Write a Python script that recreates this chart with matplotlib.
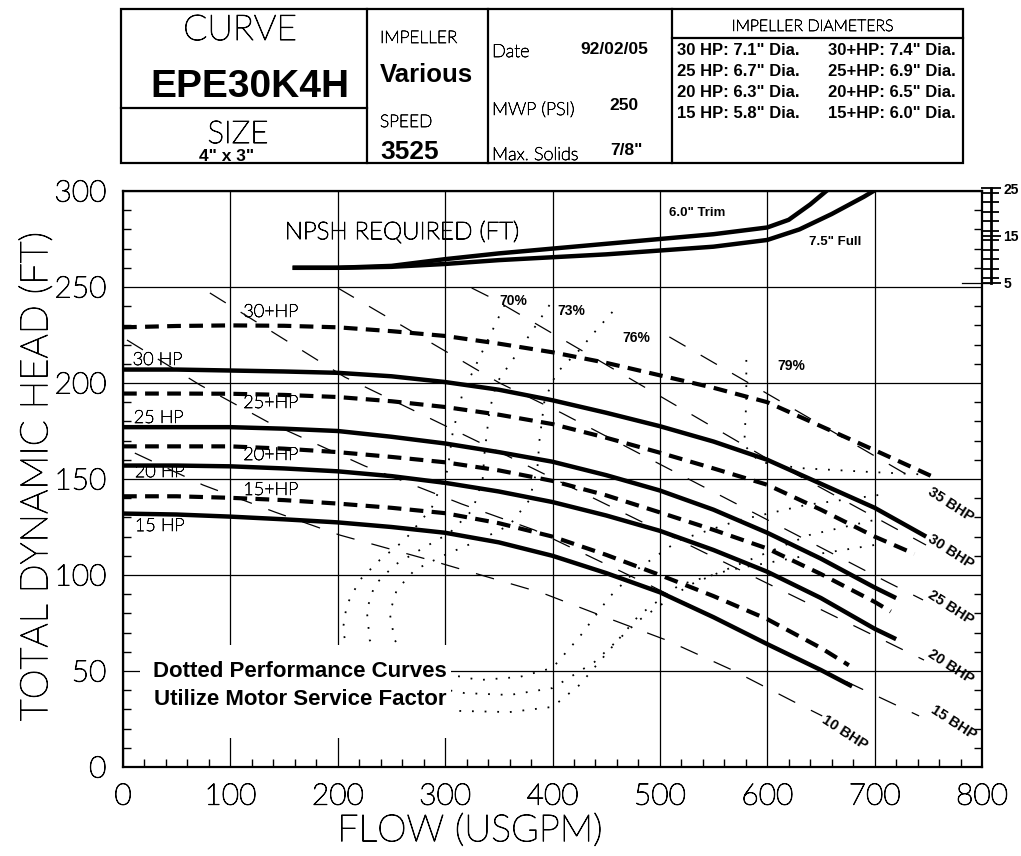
import matplotlib
matplotlib.use("Agg")
import matplotlib.pyplot as plt
import matplotlib.patheffects as pe
from matplotlib.ticker import MultipleLocator, FixedLocator
from matplotlib.patches import Rectangle
from matplotlib.lines import Line2D

THIN = ['Lato', 'DejaVu Sans']
BOLD = ['Liberation Sans', 'DejaVu Sans']
# light face, darkened a little so it reads like the plotted drafting font
ink = [pe.withStroke(linewidth=0.7, foreground='k')]

# ---------------- data ----------------
flow_ticks = [0, 100, 200, 300, 400, 500, 600, 700, 800]
head_ticks = [0, 50, 100, 150, 200, 250, 300]

# solid impeller curves (standard motor)
q_30hp = [0, 50, 100, 150, 200, 250, 300, 350, 400, 450, 500, 550, 600, 650, 700, 748]
h_30hp = [207, 207, 206.5, 206, 205.3, 203.5, 200.5, 196.5, 191, 184.5, 177.5, 169.5, 160, 147.5, 135, 120]
q_25hp = [0, 50, 100, 150, 200, 250, 300, 350, 400, 450, 500, 550, 600, 650, 700, 720]
h_25hp = [177, 177, 177, 176.2, 175, 172, 168.5, 164, 159, 152, 144, 134, 122, 108.5, 93.5, 88]
q_20hp = [0, 50, 100, 150, 200, 250, 300, 350, 400, 450, 500, 550, 600, 650, 700, 720]
h_20hp = [157, 157, 156.6, 155.5, 154, 151.5, 148, 143.5, 138, 131, 123, 113, 101.7, 88, 72, 66.6]
q_15hp = [0, 50, 100, 150, 200, 250, 300, 350, 400, 450, 500, 550, 600, 650, 679]
h_15hp = [132, 131.5, 130.4, 129, 127.4, 125, 122, 117, 110, 101, 91, 78, 64, 50.5, 42]

# dashed impeller curves (service factor)
q_30p = [0, 50, 100, 150, 200, 250, 300, 350, 400, 450, 500, 550, 600, 650, 700, 755]
h_30p = [229, 229.7, 230, 229.8, 229, 227, 224.5, 220.5, 216, 210.5, 204, 197.5, 190, 177.5, 165, 151]
q_25p = [0, 50, 100, 150, 200, 250, 300, 350, 400, 450, 500, 550, 600, 650, 700, 737]
h_25p = [194.5, 194.5, 194.4, 193.8, 192.7, 190.5, 187.5, 183.5, 178.6, 171.5, 163.7, 155.5, 147, 134, 120, 111]
q_20p = [0, 50, 100, 150, 200, 250, 300, 350, 400, 450, 500, 550, 600, 650, 700, 715]
h_20p = [167, 167, 167, 165.8, 164, 161.5, 158.7, 154.5, 149, 141.5, 132.6, 123.5, 113.8, 100.5, 86, 81]
q_15p = [0, 50, 100, 150, 200, 250, 300, 350, 400, 450, 500, 550, 600, 650, 676]
h_15p = [141, 141, 140.2, 139, 137.2, 135, 132.2, 127, 120, 110.5, 100, 89, 77, 62, 53]

curve_names = ['30+HP', '30 HP', '25+HP', '25 HP', '20+HP', '20 HP', '15+HP', '15 HP']
curve_label_q = [112, 9, 112, 10, 112, 11, 112, 11]
curve_label_h = [237, 212, 189.6, 181.8, 162.5, 153.6, 144.3, 125.5]

# NPSH required curves (drawn in head units)
q_npsh_trim = [160, 200, 250, 300, 350, 400, 450, 500, 550, 600, 620, 640, 655]
h_npsh_trim = [260, 260, 261, 264.5, 267.5, 270, 272.5, 275, 277.5, 281, 285, 293, 300]
q_npsh_full = [160, 200, 250, 300, 350, 400, 450, 500, 550, 600, 630, 660, 690, 705]
h_npsh_full = [260, 260, 260.5, 262, 264, 265.5, 267, 269, 271, 274.5, 280, 288, 297, 302]
npsh_scale_ticks = [5, 15, 25]

# brake horsepower lines
bhp_names = ['35 BHP', '30 BHP', '25 BHP', '20 BHP', '15 BHP', '10 BHP']
q_bhp35 = [508.8, 732.1]
h_bhp35 = [224.0, 151.6]
q_bhp30 = [324.7, 343.3, 597.2, 747.9]
h_bhp30 = [249.5, 244.3, 161.5, 115.6]
q_bhp25 = [200.0, 350.7, 408.4, 501.4, 618.6, 711.6, 745.1]
h_bhp25 = [249.5, 200.0, 184.4, 157.3, 123.4, 96.4, 87.0]
q_bhp20 = [80.9, 206.5, 358.1, 536.7, 746.0]
h_bhp20 = [246.9, 203.1, 162.0, 113.0, 55.7]
q_bhp15 = [3.7, 71.6, 134.9, 225.1, 315.3, 383.3, 490.2, 611.2, 741.4]
h_bhp15 = [222.4, 199.0, 179.7, 156.8, 137.0, 123.4, 94.8, 60.9, 26.6]
q_bhp10 = [11, 74.4, 141.4, 201.9, 285.6, 390.7, 443.7, 506, 567.4, 625.1, 651.2]
h_bhp10 = [163.5, 146.9, 132.8, 120.8, 107.8, 90.6, 79.2, 66.1, 50.5, 33.9, 26.6]
bhp_label_q = [771, 771, 771, 771, 774, 672]
bhp_label_h = [136.5, 112.0, 82.8, 52.1, 22.9, 17.7]

# efficiency contours
eff_names = ['70%', '73%', '76%', '79%']
q_eff70 = [355.3, 334.0, 316.3, 307.0, 302.3, 287.4, 262.3, 239.1, 220.5, 208.4, 204.7, 211.2, 234.4,
           271.6, 313.5, 360.0, 400.0, 425.1, 453.0, 480.9, 518.1, 564.7, 629.8, 699.5]
h_eff70 = [240.6, 215.6, 194.8, 174.0, 154.7, 134.9, 118.2, 107.8, 97.4, 84.4, 71.4, 55.7, 40.1,
           31.3, 29.2, 28.6, 31.3, 42.7, 60.9, 79.2, 94.8, 102.6, 109.4, 115.6]
q_eff73 = [397.2, 369.3, 347.9, 341.4, 336.7, 334.9, 325.6, 304.2, 276.3, 253.0, 234.4, 227.0, 229.8,
           243.7, 276.3, 318.1, 360.0, 400.0, 439.1, 480.9, 527.4, 583.3, 639.1, 699.5]
h_eff73 = [240.6, 217.2, 200.0, 185.9, 163.5, 149.5, 133.9, 121.9, 113.0, 105.2, 94.8, 81.8, 66.1,
           53.1, 42.7, 38.5, 37.5, 41.1, 54.7, 76.6, 94.8, 107.8, 120.8, 128.6]
q_eff76 = [455.8, 440.9, 425.1, 403.7, 392.6, 387.9, 386.0, 378.6, 360.0, 332.1, 299.5, 271.6, 254.9,
           248.4, 253.0, 267.0, 294.9, 332.1, 369.3, 400.0, 425.1, 453.0, 478.1, 518.1, 574.0, 636.3, 704.2]
h_eff76 = [237.0, 227.6, 217.2, 205.2, 191.1, 170.3, 156.3, 139.1, 126.0, 118.2, 110.4, 102.6, 92.2,
           80.2, 66.1, 55.7, 49.0, 45.3, 46.9, 51.6, 67.7, 88.5, 102.6, 118.2, 128.6, 136.5, 141.7]
q_eff79 = [580.5, 580.5, 578.6, 592.6, 629.8, 697.7, 755.3]
h_eff79 = [212.0, 191.1, 167.7, 158.9, 155.7, 153.6, 152.1]
eff_label_q = [350.7, 404.7, 465.1, 609.3]
eff_label_h = [242.7, 237.5, 223.4, 208.9]

# header block text
curve_id = 'EPE30K4H'
pump_size = '4" x 3"'
impeller = 'Various'
speed = '3525'
date = '92/02/05'
mwp = '250'
max_solids = '7/8"'
diam_std = ['30 HP: 7.1" Dia.', '25 HP: 6.7" Dia.', '20 HP: 6.3" Dia.', '15 HP: 5.8" Dia.']
diam_sf = ['30+HP: 7.4" Dia.', '25+HP: 6.9" Dia.', '20+HP: 6.5" Dia.', '15+HP: 6.0" Dia.']

# ---------------- figure ----------------
W, H = 1021, 856
fig = plt.figure(figsize=(W / 100, H / 100), dpi=100)


def fx(x):
    return x / W


def fy(y):
    return 1 - y / H


ax = fig.add_axes([fx(123), fy(767), fx(982) - fx(123), fy(191) - fy(767)])
ax.set_xlim(0, 800)
ax.set_ylim(0, 300)
ax.xaxis.set_major_locator(FixedLocator(flow_ticks))
ax.yaxis.set_major_locator(FixedLocator(head_ticks))
ax.xaxis.set_minor_locator(MultipleLocator(20))
ax.yaxis.set_minor_locator(MultipleLocator(10))
ax.tick_params(which='major', length=0, pad=12, labelsize=21.5)
ax.tick_params(which='minor', direction='in', length=6, width=1, right=True)
for lab in ax.get_xticklabels() + ax.get_yticklabels():
    lab.set_family(THIN)
    lab.set_weight('light')
    lab.set_path_effects(ink)
ax.grid(True, which='major', color='k', lw=0.9)
for s in ax.spines.values():
    s.set_linewidth(1.6)

ax.set_xlabel('FLOW (USGPM)', family=THIN, weight='light', fontsize=27, path_effects=ink)
ax.set_ylabel('TOTAL DYNAMIC HEAD (FT)', family=THIN, weight='light', fontsize=27.5, path_effects=ink)
ax.xaxis.set_label_coords(0.404, -0.082)
ax.yaxis.set_label_coords(-0.08, 0.505)

# impeller curves
for q, h in [(q_30hp, h_30hp), (q_25hp, h_25hp), (q_20hp, h_20hp), (q_15hp, h_15hp)]:
    ax.plot(q, h, color='k', lw=3.2, solid_capstyle='butt', zorder=5)
for q, h in [(q_30p, h_30p), (q_25p, h_25p), (q_20p, h_20p), (q_15p, h_15p)]:
    ax.plot(q, h, color='k', lw=3.0, linestyle=(0, (3.3, 2)), dash_capstyle='butt', zorder=5)
for name, q, h in zip(curve_names, curve_label_q, curve_label_h):
    ax.text(q, h, name, family=THIN, weight='light', fontsize=13, ha='left', va='center', zorder=6,
            path_effects=[pe.withStroke(linewidth=0.5, foreground='k')])

# NPSH
ax.plot(q_npsh_trim, h_npsh_trim, color='k', lw=3.2, zorder=5)
ax.plot(q_npsh_full, h_npsh_full, color='k', lw=3.2, zorder=5)
ax.text(150.7, 278.6, 'NPSH REQUIRED (FT)', family=THIN, weight='light', fontsize=17.5, ha='left',
        va='center', path_effects=ink)
ax.text(508.8, 288.5, '6.0" Trim', family=BOLD, weight='bold', fontsize=9.5, ha='left', va='center')
ax.text(639, 273.4, '7.5" Full', family=BOLD, weight='bold', fontsize=9.5, ha='left', va='center')

# BHP lines
bhp_q = [q_bhp35, q_bhp30, q_bhp25, q_bhp20, q_bhp15, q_bhp10]
bhp_h = [h_bhp35, h_bhp30, h_bhp25, h_bhp20, h_bhp15, h_bhp10]
for q, h in zip(bhp_q, bhp_h):
    ax.plot(q, h, color='k', lw=0.9, linestyle=(0, (15, 14)), zorder=4)
for name, q, h in zip(bhp_names, bhp_label_q, bhp_label_h):
    ax.text(q, h, name, family=BOLD, weight='bold', fontsize=10.5, rotation=-33, rotation_mode='anchor',
            ha='center', va='center', zorder=6)

# efficiency contours
eff_q = [q_eff70, q_eff73, q_eff76, q_eff79]
eff_h = [h_eff70, h_eff73, h_eff76, h_eff79]
for q, h in zip(eff_q, eff_h):
    ax.plot(q, h, color='k', lw=1.3, linestyle=(0, (1, 6)), zorder=2)
for name, q, h in zip(eff_names, eff_label_q, eff_label_h):
    ax.text(q, h, name, family=BOLD, weight='bold', fontsize=10, ha='left', va='center', zorder=6)

# note box
ax.add_patch(Rectangle((15.8, 15.1), 289.8, 48.4, facecolor='white', edgecolor='none', zorder=3))
ax.text(165, 49.6, 'Dotted Performance Curves', family=BOLD, weight='bold', fontsize=16,
        ha='center', va='center', zorder=6)
ax.text(165, 35.3, 'Utilize Motor Service Factor', family=BOLD, weight='bold', fontsize=16,
        ha='center', va='center', zorder=6)

# NPSH scale on the right
nx = fig.add_axes([fx(991), fy(283), 0.0001, fy(188) - fy(283)])
nx.set_ylim(5, 25)
nx.set_xticks([])
for side in ['top', 'bottom', 'left']:
    nx.spines[side].set_visible(False)
nx.spines['right'].set_linewidth(2)
nx.yaxis.tick_right()
nx.yaxis.set_major_locator(FixedLocator(npsh_scale_ticks))
nx.yaxis.set_minor_locator(MultipleLocator(2))
nx.tick_params(which='both', direction='inout', width=1.3)
nx.tick_params(which='major', length=14, labelsize=10, pad=2)
nx.tick_params(which='minor', length=11)
for lab in nx.get_yticklabels():
    lab.set_family(BOLD)
    lab.set_weight('bold')
fig.add_artist(Line2D([fx(962), fx(991)], [fy(283), fy(283)], color='k', lw=0.9))

# ---------------- header block ----------------
lw = 1.6
fig.add_artist(Rectangle((fx(121), fy(163)), fx(963) - fx(121), fy(9) - fy(163),
                         fill=False, lw=lw, edgecolor='k', transform=fig.transFigure))
for xv in [367, 488, 672]:
    fig.add_artist(Line2D([fx(xv), fx(xv)], [fy(163), fy(9)], color='k', lw=lw))
fig.add_artist(Line2D([fx(121), fx(367)], [fy(108), fy(108)], color='k', lw=lw))
fig.add_artist(Line2D([fx(672), fx(963)], [fy(38), fy(38)], color='k', lw=lw))

thin_kw = dict(family=THIN, weight='light', va='baseline', path_effects=ink)
fig.text(fx(240), fy(40), 'CURVE', fontsize=25.5, ha='center', **thin_kw)
fig.text(fx(250), fy(97), curve_id, family=BOLD, weight='bold', fontsize=28, ha='center', va='baseline')
fig.text(fx(238), fy(143), 'SIZE', fontsize=22.5, ha='center', **thin_kw)
fig.text(fx(227), fy(161), pump_size, family=BOLD, weight='bold', fontsize=12.5, ha='center', va='baseline')

small_kw = dict(family=THIN, weight='light', va='baseline', ha='left',
                path_effects=[pe.withStroke(linewidth=0.5, foreground='k')])
fig.text(fx(380), fy(43), 'IMPELLER', fontsize=12.5, **small_kw)
fig.text(fx(380), fy(82), impeller, family=BOLD, weight='bold', fontsize=18.5, ha='left', va='baseline')
fig.text(fx(380), fy(127), 'SPEED', fontsize=12.5, **small_kw)
fig.text(fx(380), fy(159), speed, family=BOLD, weight='bold', fontsize=19, ha='left', va='baseline')

fig.text(fx(492), fy(57), 'Date', fontsize=13, **small_kw)
fig.text(fx(492), fy(115), 'MWP (PSI)', fontsize=13, **small_kw)
fig.text(fx(492), fy(160), 'Max. Solids', fontsize=13, **small_kw)
fig.text(fx(648), fy(54), date, family=BOLD, weight='bold', fontsize=12.5, ha='right', va='baseline')
fig.text(fx(638), fy(110), mwp, family=BOLD, weight='bold', fontsize=12.5, ha='right', va='baseline')
fig.text(fx(643), fy(155), max_solids, family=BOLD, weight='bold', fontsize=12.5, ha='right', va='baseline')

fig.text(fx(813), fy(31), 'IMPELLER DIAMETERS', family=THIN, weight='light', fontsize=11.5,
         ha='center', va='baseline', path_effects=[pe.withStroke(linewidth=0.5, foreground='k')])
for i, (a, b) in enumerate(zip(diam_std, diam_sf)):
    yb = [55, 76, 97, 118][i]
    fig.text(fx(677), fy(yb), a, family=BOLD, weight='bold', fontsize=12, ha='left', va='baseline')
    fig.text(fx(828), fy(yb), b, family=BOLD, weight='bold', fontsize=12, ha='left', va='baseline')

fig.savefig('out.png', dpi=100)
